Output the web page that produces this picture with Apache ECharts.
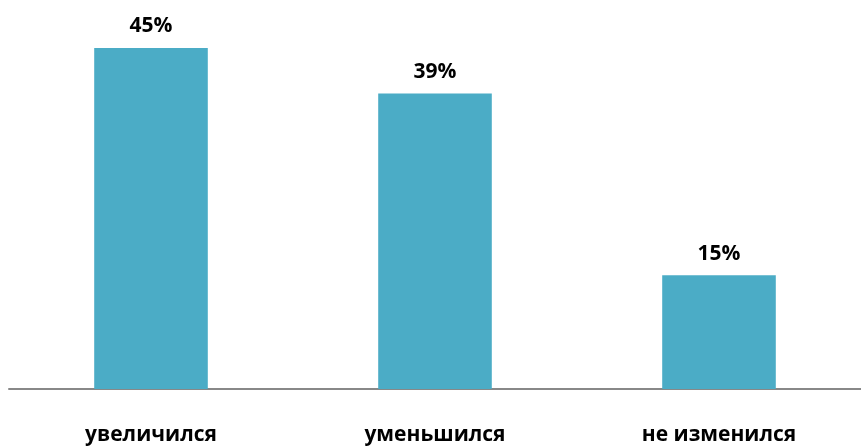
<!DOCTYPE html>
<html>
<head>
<meta charset="utf-8">
<script src="https://cdn.jsdelivr.net/npm/echarts@6/dist/echarts.min.js"></script>
<style>
    html, body { margin: 0; padding: 0; background: #fff; }
    #chart { width: 861px; height: 446px; }
</style>
</head>
<body>
<div id="chart"></div>
<script>
var categories = ['увеличился', 'уменьшился', 'не изменился'];
var values = [45, 39, 15];

function renderChart() {
    var chart = echarts.init(document.getElementById('chart'));
    var option = {
        animation: false,
        textStyle: { fontFamily: 'Open Sans' },
        grid: {
            left: 9,
            right: 0,
            top: 10,
            bottom: 54,
            containLabel: false
        },
        xAxis: {
            type: 'category',
            data: categories,
            axisLine: { lineStyle: { color: '#888888', width: 2 } },
            axisTick: { show: false },
            axisLabel: {
                margin: 36,
                fontSize: 21,
                fontWeight: 'bold',
                color: '#000'
            }
        },
        yAxis: {
            type: 'value',
            min: 0,
            max: 50,
            show: false,
            splitLine: { show: false }
        },
        series: [{
            type: 'bar',
            data: values,
            barWidth: '40%',
            itemStyle: { color: '#4BACC6' },
            label: {
                show: true,
                position: 'top',
                distance: 11,
                formatter: '{c}%',
                fontSize: 21,
                fontWeight: 'bold',
                color: '#000'
            }
        }]
    };
    chart.setOption(option);
}

renderChart();
</script>
</body>
</html>
